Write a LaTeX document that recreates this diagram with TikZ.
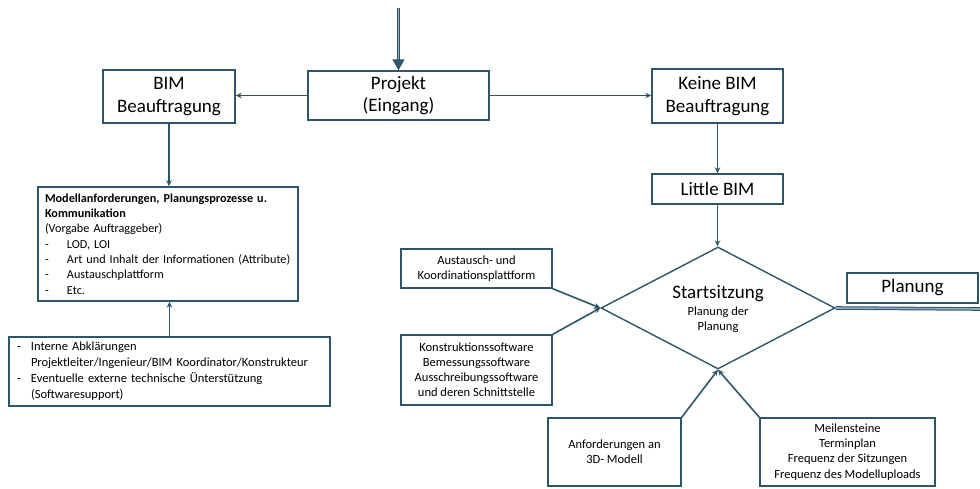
\documentclass[tikz,border=0pt]{standalone}
\usepackage{fontspec}
\setmainfont{Carlito}
\usetikzlibrary{shapes.geometric,arrows.meta}
\definecolor{dk}{RGB}{45,86,106}
\definecolor{lt}{RGB}{140,170,186}
\tikzset{
  box/.style={draw=dk, line width=1.4pt, fill=white, inner sep=1pt, text=black, align=center},
  big/.style={font=\fontsize{19}{22.5}\selectfont},
  small/.style={font=\fontsize{12.5}{15.3}\selectfont},
  conn/.style={draw=dk, line width=1.6pt, -{Stealth[length=6pt,width=5.5pt]}},
  dbl/.style={draw=dk, line width=1pt, double=lt, double distance=1.6pt},
}
\newcommand{\dashitem}[2][22pt]{\mbox{\makebox[#1][l]{-}#2}}
\begin{document}
\begin{tikzpicture}[x=1pt,y=-1pt]
\useasboundingbox (0,0) rectangle (980,488);
% nodes
\node[box,big,minimum width=181pt,minimum height=49pt] (projekt) at (398.5,95.5) {Projekt\\(Eingang)};
\node[box,big,minimum width=132pt,minimum height=53pt] (bim) at (169,96.5) {BIM\\Beauftragung};
\node[box,big,minimum width=131pt,minimum height=54pt] (keine) at (717.5,96) {Keine BIM\\Beauftragung};
\node[box,big,minimum width=131pt,minimum height=30pt] (little) at (717.5,189) {Little BIM};
\node[box,big,minimum width=131pt,minimum height=30pt] (planung) at (912.5,288) {Planung};
\node[box,inner sep=2pt,font=\fontsize{12.2}{15.3}\selectfont,minimum width=260pt,minimum height=114pt,text width=246pt,align=left] (modell) at (168,244) {%
\mbox{\textbf{Modellanforderungen, Planungsprozesse u.}}\\
\textbf{Kommunikation}\\
(Vorgabe Auftraggeber)\\
\dashitem{LOD, LOI}\\
\dashitem{Art und Inhalt der Informationen (Attribute)}\\
\dashitem{Austauschplattform}\\
\dashitem{Etc.}};
\node[box,inner sep=2pt,font=\fontsize{12.5}{16}\selectfont,minimum width=321pt,minimum height=69pt,text width=305pt,align=left] (intern) at (169.5,371.5) {%
\dashitem[14pt]{Interne Abklärungen}\\
\hspace*{14pt}Projektleiter/Ingenieur/BIM Koordinator/Konstrukteur\\
\dashitem[14pt]{Eventuelle externe technische Ünterstützung}\\
\hspace*{14pt}(Softwaresupport)};
\node[box,small,minimum width=151pt,minimum height=39pt] (austausch) at (476.5,268.5) {Austausch- und\\Koordinationsplattform};
\node[box,font=\fontsize{12.5}{15}\selectfont,minimum width=151pt,minimum height=70pt] (konstr) at (476.5,370) {Konstruktionssoftware\\Bemessungssoftware\\Ausschreibungssoftware\\und deren Schnittstelle};
\node[box,small,minimum width=133pt,minimum height=68pt] (anf) at (614.5,452) {Anforderungen an\\3D- Modell};
\node[box,small,minimum width=175pt,minimum height=68pt] (meil) at (847.5,452) {Meilensteine\\Terminplan\\Frequenz der Sitzungen\\Frequenz des Modelluploads};
\node[draw=dk, line width=1.4pt, diamond, inner sep=0pt, aspect=1.918, minimum width=234pt, minimum height=122pt] (dia) at (718,308) {};
\node[big, inner sep=0pt] (st) at (718,294) {Startsitzung};
\node[small, inner sep=0pt] (st1) at (718,312) {Planung der};
\node[small, inner sep=0pt] (st2) at (718,327) {Planung};
% connectors
\coordinate (top) at (398.5,8);
\coordinate (rightend) at (980,309);
\draw[dbl, -{Triangle[length=11pt,width=12pt,fill=dk]}] (top) -- (projekt.north);
\draw[conn] (projekt.west) -- (projekt.west -| bim.east);
\draw[conn] (projekt.east) -- (projekt.east -| keine.west);
\draw[conn] (keine.south) -- (little.north);
\draw[conn] (little.south) -- (little.south |- dia.north);
\draw[conn] (bim.south) -- (bim.south |- modell.north);
\draw[conn] (intern.north) -- (intern.north |- modell.south);
\draw[conn] (austausch.south east) -- (dia.west);
\draw[conn] (konstr.north east) -- (dia.west);
\draw[conn] (anf.north east) -- (dia.south);
\draw[conn] (meil.north west) -- (dia.south);
\draw[dbl] (dia.east) -- (rightend);
\end{tikzpicture}
\end{document}
